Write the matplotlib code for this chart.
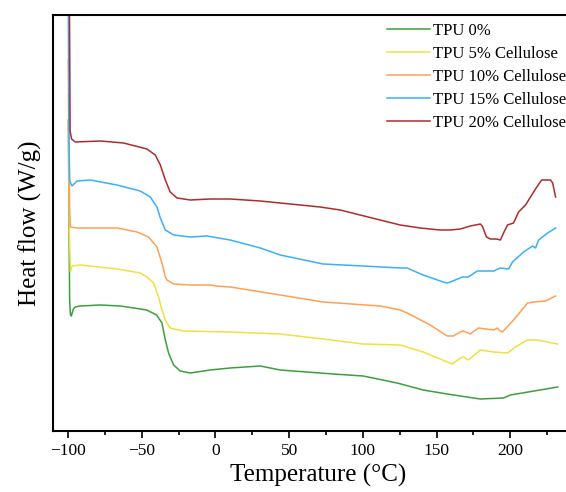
import numpy as np
import matplotlib
matplotlib.use("Agg")
import matplotlib.pyplot as plt
from matplotlib.ticker import MultipleLocator, NullLocator

plt.rcParams['font.family'] = ['Liberation Serif', 'DejaVu Serif']
plt.rcParams['axes.unicode_minus'] = True

# DSC curves (temperature in degC, heat flow in arbitrary offset units)
t_0 = [-99.8, -99.3, -98.9, -98.4, -97.8, -96.4, -95.1, -91.7, -78.1, -64.5, -51.0,
       -46.7, -39.9, -36.3, -34.0, -31.8, -28.4, -23.9, -17.1, -3.6, 10.0, 30.4, 43.9,
       79.8, 100.2, 123.2, 140.9, 157.2, 166.1, 179.7, 195.4, 200.1, 232.1]
hf_0 = [311, 200, 130, 117, 115, 122, 124, 125, 126, 125, 122,
        121, 116, 108, 91, 78, 66, 60, 58, 61, 63, 65, 61,
        57, 55, 48, 41, 37, 35, 32, 33, 36, 44]

t_5 = [-99.8, -99.1, -98.4, -97.8, -97.1, -91.7, -66.8, -51.0, -46.5, -42.0, -38.6,
       -36.3, -34.0, -30.8, -21.8, 10.0, 43.9, 73.0, 100.2, 125.3, 140.9, 157.2,
       160.7, 166.1, 168.2, 171.5, 179.7, 188.6, 198.1, 203.5, 211.7, 218.5, 232.1]
hf_5 = [336, 200, 159, 163, 165, 166, 162, 158, 154, 148, 134,
        121, 111, 103, 100, 99, 97, 92, 87, 86, 79, 69,
        67, 73, 74, 71, 81, 79, 78, 84, 91, 91, 87]

t_10 = [-99.8, -99.4, -98.9, -98.4, -93.9, -66.8, -53.2, -45.4, -39.7, -36.3, -34.0,
        -32.9, -28.4, -17.1, -3.6, 0.5, 10.0, 43.9, 73.0, 111.7, 125.3,
        130.0, 145.7, 157.2, 161.3, 166.1, 168.2, 172.9, 178.3, 188.6, 191.3, 192.3,
        194.7, 202.2, 211.7, 215.8, 223.9, 230.7]
hf_10 = [371, 300, 220, 204, 203, 203, 199, 194, 184, 168, 154,
         151, 147, 146, 146, 145, 144, 136, 129, 125, 121,
         118, 106, 95, 95, 99, 100, 97, 103, 101, 103, 101,
         99, 111, 128, 129, 130, 135]

t_15 = [-99.8, -99.4, -98.9, -97.3, -93.9, -84.9, -66.8, -51.0, -44.2, -39.7, -37.4,
        -34.0, -28.4, -17.1, -5.8, 10.0, 30.4, 43.9, 73.0, 100.2,
        125.3, 130.0, 140.9, 154.5, 157.2, 159.3, 167.5, 171.5, 177.6, 188.6, 193.3,
        198.8, 201.5, 209.0, 215.1, 217.1, 219.2, 225.3, 230.7]
hf_15 = [416, 300, 250, 245, 250, 251, 246, 240, 234, 224, 213,
         201, 196, 194, 195, 191, 183, 176, 167, 165,
         163, 163, 156, 149, 148, 149, 154, 154, 160, 160, 163,
         162, 169, 179, 185, 183, 191, 198, 203]

t_20 = [-99.0, -98.6, -97.6, -95.1, -78.1, -62.3, -46.5, -40.8, -37.4, -34.0, -30.7,
        -26.1, -17.1, -3.6, 10.0, 30.4, 43.9, 57.5, 71.0, 84.6, 98.1, 111.7, 125.3,
        138.9, 152.4, 159.3, 166.1, 172.9, 179.7, 181.0, 183.8, 186.5, 190.6, 193.3,
        195.4, 198.1, 200.1, 202.2, 205.6, 210.3, 217.1, 221.2, 227.3, 228.7, 230.7]
hf_20 = [416, 300, 292, 289, 290, 288, 282, 276, 266, 251, 239,
         233, 231, 232, 232, 230, 228, 226, 224, 221, 216, 211, 206,
         203, 201, 201, 202, 205, 207, 205, 194, 192, 192, 191,
         198, 206, 207, 208, 219, 226, 242, 251, 251, 248, 234]

labels = ["TPU 0%", "TPU 5% Cellulose", "TPU 10% Cellulose",
          "TPU 15% Cellulose", "TPU 20% Cellulose"]
colors = ["#3c9f3c", "#f0e040", "#ffa055", "#38b0ff", "#b02c2c"]

fig = plt.figure(figsize=(5.66, 4.92), dpi=100)
ax = fig.add_axes([53/566, 1 - 431/492, 530/566, 416/492])

series = [(t_0, hf_0), (t_5, hf_5), (t_10, hf_10), (t_15, hf_15), (t_20, hf_20)]
for (t, hf), lab, c in zip(series, labels, colors):
    ax.plot(t, hf, color=c, lw=1.1, label=lab)

ax.set_xlim(-110.2, 249.3)
ax.set_ylim(0, 416)
ax.xaxis.set_major_locator(MultipleLocator(50))
ax.xaxis.set_minor_locator(MultipleLocator(25))
ax.yaxis.set_major_locator(NullLocator())
ax.tick_params(axis='x', which='major', direction='out', length=5, width=1.2, labelsize=12.5)
ax.tick_params(axis='x', which='minor', direction='out', length=3, width=1.2)
for s in ['left', 'bottom', 'top']:
    ax.spines[s].set_linewidth(1.5)
ax.spines['right'].set_visible(False)

ax.set_xlabel("Temperature (°C)", fontsize=18, labelpad=4)
ax.set_ylabel("Heat flow (W/g)", fontsize=18, labelpad=8)

fig.legend(loc='upper left', bbox_to_anchor=(387/566, 1 - 23/492), frameon=False,
           fontsize=12, handlelength=2.6, handletextpad=0.18, labelspacing=0.42,
           borderpad=0, borderaxespad=0)

fig.savefig("out.png", dpi=100)
